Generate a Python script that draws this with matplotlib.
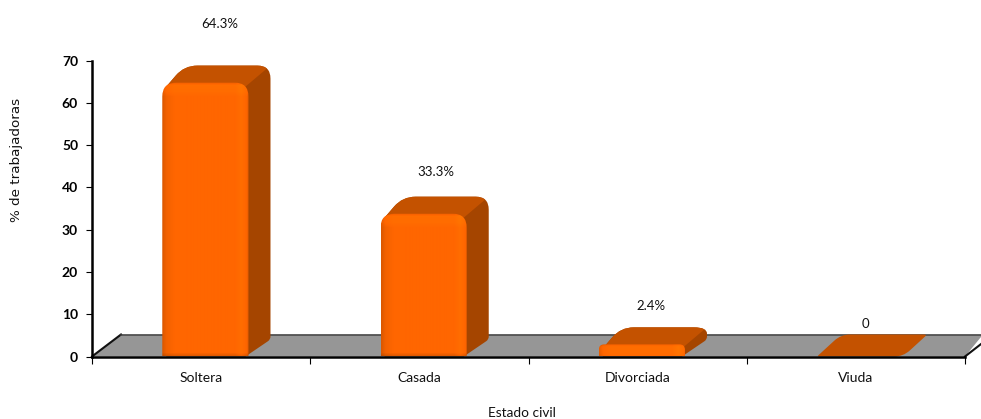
import numpy as np
import matplotlib
matplotlib.use('Agg')
import matplotlib.pyplot as plt
from matplotlib.path import Path
from matplotlib.patches import PathPatch
from matplotlib.transforms import IdentityTransform

plt.rcParams['font.family'] = ['Lato', 'DejaVu Sans']

# Data
categories = ['Soltera', 'Casada', 'Divorciada', 'Viuda']
values = [64.3, 33.3, 2.4, 0]
value_labels = ['64.3%', '33.3%', '2.4%', '0']
y_ticks = [0, 10, 20, 30, 40, 50, 60, 70]

W, H = 981, 419
TOP = '#c45200'
SIDE = '#a54500'
FLOOR = '#969696'


def rounded(points, radii):
    # closed polygon with rounded corners, radius per corner
    pts = [np.array(p, dtype=float) for p in points]
    n = len(pts)
    verts, codes = [], []
    for i, p in enumerate(pts):
        r = radii[i]
        a = pts[i - 1] - p
        b = pts[(i + 1) % n] - p
        start = p + a / np.hypot(*a) * min(r, np.hypot(*a) / 2)
        end = p + b / np.hypot(*b) * min(r, np.hypot(*b) / 2)
        verts.append(start)
        codes.append(Path.MOVETO if i == 0 else Path.LINETO)
        verts += [p, end]
        codes += [Path.CURVE3, Path.CURVE3]
    verts.append(verts[0])
    codes.append(Path.CLOSEPOLY)
    return Path(verts, codes)


def add_shape(ax, path, color, z):
    patch = PathPatch(path, facecolor=color, edgecolor='none',
                      transform=IdentityTransform(), zorder=z, clip_on=False)
    ax.add_patch(patch)
    return patch


def front_gradient(w, h):
    # orange front face with darker edges and a soft bevel
    px = np.arange(w)
    base = np.array([1.0, 0.4, 0.0])
    across = np.interp(px, [0, 4, 12, w - 14, w - 8, w - 3, w - 1],
                       [0.86, 0.95, 1.0, 1.0, 1.07, 0.99, 0.9])
    py = np.arange(h)
    down = np.interp(py, [0, 3, 9, 14, h - 4, h - 1],
                     [0.92, 1.08, 1.06, 1.0, 1.0, 0.88])
    img = base[None, None, :] * across[None, :, None] * down[:, None, None]
    return np.clip(img, 0, 1)


fig = plt.figure(figsize=(W / 100, H / 100), dpi=100)
ax = fig.add_axes([92 / W, (H - 356.5) / H, (965 - 92) / W, (356.5 - 60.5) / H])
ax.set_xlim(0, len(categories))
ax.set_ylim(0, 70)
ax.patch.set_visible(False)

# floor of the 3D box
to_px = ax.transData.transform
x0, y0 = to_px((0, 0))
x1, _ = to_px((len(categories), 0))
floor_dx, floor_dy = 29, 22
floor_xy = [(x0, y0), (x0 + floor_dx, y0 + floor_dy), (W + 2, y0 + floor_dy), (x1, y0)]
add_shape(ax, Path(floor_xy + [floor_xy[0]], closed=True), FLOOR, 1)
line_kw = dict(transform=IdentityTransform(), clip_on=False)
ax.plot([x0, x0 + floor_dx], [y0, y0 + floor_dy], color='#111111', lw=1.5, zorder=2, **line_kw)
ax.plot([x0 + floor_dx, W + 2], [y0 + floor_dy] * 2, color='#444444', lw=1.1, zorder=2, **line_kw)
ax.plot([x1, W + 2], [y0, y0 + 14], color='#111111', lw=1.5, zorder=2, **line_kw)

# bars
bar_offset = 0.322
bar_width = 0.395
dx, dy = 22, 17
for i, v in enumerate(values):
    xl, _ = to_px((i + bar_offset, 0))
    xr, yt = to_px((i + bar_offset + bar_width, v))
    if v == 0:
        # flat bar: only the top face is left
        add_shape(ax, rounded([(xl, y0), (xl + 24, y0 + floor_dy), (xr + 24, y0 + floor_dy), (xr, y0)],
                              [2, 9, 3, 9]), TOP, 3)
        continue
    yt = yt + 2
    radius = min(14, (yt - y0) * 0.45)
    back_r = 13
    # outline of the part behind the front face, side colour first
    outline = rounded([(xr - 3, y0), (xr + dx, y0 + dy), (xr + dx, yt + dy), (xl + dx, yt + dy),
                       (xl + 4, yt - 4), (xl + 4, y0)],
                      [0, 3, back_r, back_r, 2, 0])
    shell = add_shape(ax, outline, SIDE, 3)
    # top face stops on the diagonal from front corner to back corner
    top_face = add_shape(ax, Path([(xl, yt - 6), (xl + dx, yt + dy + 1), (xr + dx + 1, yt + dy + 1),
                                   (xr - 3, yt - 4), (xl, yt - 6)], closed=True), TOP, 4)
    top_face.set_clip_on(True)
    top_face.set_clip_path(outline, IdentityTransform())
    clip = add_shape(ax, rounded([(xl, y0), (xl, yt), (xr, yt), (xr, y0)],
                                 [1, radius, radius, 1]), 'none', 5)
    w_px, h_px = int(round(xr - xl)), int(round(yt - y0))
    ax.imshow(front_gradient(w_px, h_px), aspect='auto', interpolation='bilinear',
              extent=(i + bar_offset, i + bar_offset + bar_width, 0, (yt - y0) / (to_px((0, 1))[1] - y0)),
              zorder=5, clip_path=clip)

ax.set_xlim(0, len(categories))
ax.set_ylim(0, 70)

# value labels, shift from the category centre and gap above the bar top in pixels
label_shifts = [19, 16, 13, 10]
label_gaps = [61, 44, 40, 33]
for i, (v, txt, shift, gap) in enumerate(zip(values, value_labels, label_shifts, label_gaps)):
    lx, ly = to_px((i + 0.5, v))
    ax.text(lx + shift, ly + gap, txt, transform=IdentityTransform(), ha='center', va='center',
            fontsize=9.5, color='#111111', clip_on=False, zorder=6)

# axes
for s in ['top', 'right']:
    ax.spines[s].set_visible(False)
for s in ['left', 'bottom']:
    ax.spines[s].set_linewidth(1.8)
    ax.spines[s].set_color('black')
    ax.spines[s].set_zorder(7)
ax.set_yticks(y_ticks)
ax.set_yticklabels([str(t) for t in y_ticks], fontweight='bold', fontsize=10)
ax.set_xticks(np.arange(len(categories) + 1))
ax.set_xticklabels([])
ax.set_xticks(np.arange(len(categories)) + 0.5, categories, minor=True, fontsize=10)
ax.tick_params(axis='x', which='minor', length=0, pad=11, colors='#111111')
ax.tick_params(axis='x', which='major', length=5, width=0.8)
ax.tick_params(axis='y', length=4, width=0.8, pad=6)

fig.text(17 / W, 1 - 160 / H, '% de trabajadoras', rotation=90, ha='center', va='center',
         fontsize=9.7, family=['DejaVu Sans'], color='#111111')
fig.text(522 / W, 1 - 413 / H, 'Estado civil', ha='center', va='center', fontsize=9.8, color='#111111')

fig.savefig('out.png', dpi=100)
